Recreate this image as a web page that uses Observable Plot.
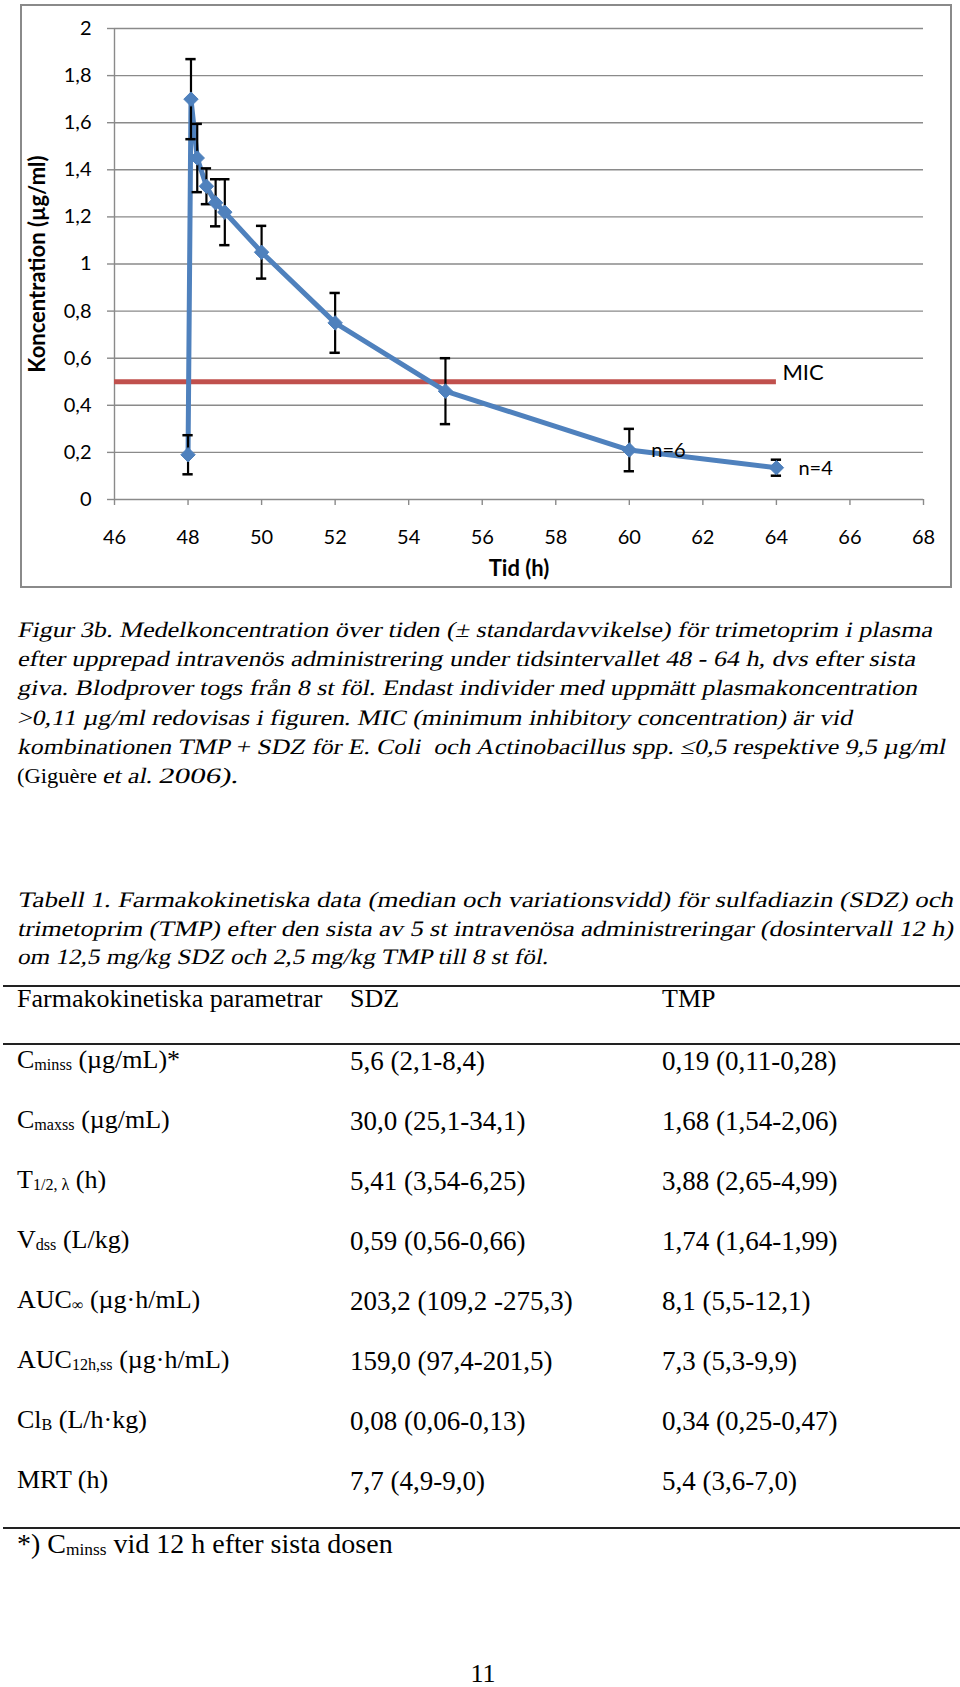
<!DOCTYPE html>
<html>
<head>
<meta charset="utf-8">
<script src="https://cdn.jsdelivr.net/npm/d3@7"></script>
<script src="https://cdn.jsdelivr.net/npm/@observablehq/plot@0.6"></script>
<style>
  body { margin: 0; background: #fff; }
  #page { position: relative; width: 960px; height: 1687px; overflow: hidden; font-family: "Liberation Serif", "Times New Roman", serif; color: #000; }
  #chart { position: absolute; left: 0; top: 0; }
  #frame { position: absolute; left: 20px; top: 4px; width: 932px; height: 584px; box-sizing: border-box; border: 2px solid #8a8a8a; pointer-events: none; }
  #captext { position: absolute; left: 0; top: 0; pointer-events: none; }
  #captext text { font-family: "Liberation Serif", "Times New Roman", serif; font-size: 22px; fill: #000; }
  .ln { position: absolute; white-space: nowrap; line-height: 1; }
  .rule { position: absolute; left: 3px; width: 957px; height: 2px; background: #222; }
  .sub { font-size: 0.62em; vertical-align: -0.12em; }
  #chart g[aria-label="y-axis label"], #chart g[aria-label="x-axis label"] { font-weight: bold; font-size: 22px; }
</style>
</head>
<body>
<div id="page">
  <div id="chart"></div>
  <div id="frame"></div>
  <svg id="captext" width="960" height="1687" xmlns="http://www.w3.org/2000/svg"></svg>
</div>
<script>
// ---------- chart data ----------
const timeH    = [48, 48.08, 48.25, 48.5, 48.75, 49, 50, 52, 55, 60, 64];
const meanConc = [0.19, 1.70, 1.45, 1.33, 1.26, 1.22, 1.05, 0.75, 0.46, 0.21, 0.135];
const sdConc   = [0.083, 0.17, 0.145, 0.076, 0.10, 0.14, 0.112, 0.127, 0.14, 0.09, 0.034];
const nNotes   = ["", "", "", "", "", "", "", "", "", "n=6", "n=4"];
const micValue = 0.5;
const micStart = 46;
const micEnd   = 64;
const micLabel = "MIC";
const xTicks = [46, 48, 50, 52, 54, 56, 58, 60, 62, 64, 66, 68];
const yTicks = [0, 0.2, 0.4, 0.6, 0.8, 1, 1.2, 1.4, 1.6, 1.8, 2];
const yTickLabels = ["0", "0,2", "0,4", "0,6", "0,8", "1", "1,2", "1,4", "1,6", "1,8", "2"];
const xTitle = "Tid (h)";
const yTitle = "Koncentration (µg/ml)";

// ---------- caption / table text ----------
const captionLines = [
  "Figur 3b. Medelkoncentration över tiden (± standardavvikelse) för trimetoprim i plasma",
  "efter upprepad intravenös administrering under tidsintervallet 48 - 64 h, dvs efter sista",
  "giva. Blodprover togs från 8 st föl. Endast individer med uppmätt plasmakoncentration",
  ">0,11 µg/ml redovisas i figuren. MIC (minimum inhibitory concentration) är vid",
  "kombinationen TMP + SDZ för E. Coli  och Actinobacillus spp. ≤0,5 respektive 9,5 µg/ml"
];
const captionLineWidths = [915, 898, 900, 835, 928];
const captionLast = ["(Giguère", "et al.", "2006)."];
const captionLastX = [17, 102, 158];
const captionLastW = [80, 50, 80];
const captionLastOblique = [false, true, true];
const tableTitleLines = [
  "Tabell 1. Farmakokinetiska data (median och variationsvidd) för sulfadiazin (SDZ) och",
  "trimetoprim (TMP) efter den sista av 5 st intravenösa administreringar (dosintervall 12 h)",
  "om 12,5 mg/kg SDZ och 2,5 mg/kg TMP till 8 st föl."
];
const tableTitleWidths = [936, 936, 531];
const tableHeader = ["Farmakokinetiska parametrar", "SDZ", "TMP"];
const paramLabels = [
  ["C", "minss", " (µg/mL)*"],
  ["C", "maxss", " (µg/mL)"],
  ["T", "1/2, λ", " (h)"],
  ["V", "dss", " (L/kg)"],
  ["AUC", "∞", " (µg·h/mL)"],
  ["AUC", "12h,ss", " (µg·h/mL)"],
  ["Cl", "B", " (L/h·kg)"],
  ["MRT (h)", "", ""]
];
const sdzValues = ["5,6 (2,1-8,4)", "30,0 (25,1-34,1)", "5,41 (3,54-6,25)", "0,59 (0,56-0,66)",
                   "203,2 (109,2 -275,3)", "159,0 (97,4-201,5)", "0,08 (0,06-0,13)", "7,7 (4,9-9,0)"];
const tmpValues = ["0,19 (0,11-0,28)", "1,68 (1,54-2,06)", "3,88 (2,65-4,99)", "1,74 (1,64-1,99)",
                   "8,1 (5,5-12,1)", "7,3 (5,3-9,9)", "0,34 (0,25-0,47)", "5,4 (3,6-7,0)"];
const footnote = ["*) C", "minss", " vid 12 h efter sista dosen"];
const pageNumber = "11";

// ---------- chart ----------
const chartData = timeH.map((t, i) => ({t, c: meanConc[i], sd: sdConc[i], note: nNotes[i]}));
const micData = [{y: micValue, x1: micStart, x2: micEnd, label: micLabel}];
const capHalf = 0.14;
const gray = "#8a8a8a";
const blue = "#4F81BD";

const chart = Plot.plot({
  width: 960,
  height: 600,
  marginLeft: 114,
  marginRight: 37,
  marginTop: 28,
  marginBottom: 101,
  style: {fontFamily: "Lato, 'Open Sans', sans-serif", background: "transparent", color: "#000"},
  x: {domain: [46, 68]},
  y: {domain: [0, 2]},
  marks: [
    Plot.gridY(yTicks, {stroke: gray, strokeOpacity: 1, strokeWidth: 1.4}),
    Plot.ruleX([46], {stroke: gray, strokeWidth: 1.4}),
    Plot.axisX({ticks: xTicks, tickSize: 6, tickPadding: 24, fontSize: 20, stroke: gray, strokeWidth: 1.4,
                label: xTitle, labelAnchor: "center", labelOffset: 76, labelArrow: "none"}),
    Plot.axisY({ticks: yTicks, tickSize: 7, tickPadding: 16, fontSize: 20, stroke: gray, strokeWidth: 1.4,
                tickFormat: d => yTickLabels[yTicks.indexOf(d)],
                label: yTitle, labelAnchor: "center", labelOffset: 85, labelArrow: "none"}),
    Plot.ruleY(micData, {y: "y", x1: "x1", x2: "x2", stroke: "#C0504D", strokeWidth: 5}),
    Plot.text(micData, {x: "x2", y: "y", text: "label", textAnchor: "start", dx: 6, dy: -9, fontSize: 22, fill: "#000"}),
    Plot.line(chartData, {x: "t", y: "c", stroke: blue, strokeWidth: 5, strokeLinejoin: "round"}),
    Plot.ruleX(chartData, {x: "t", y1: d => d.c - d.sd, y2: d => d.c + d.sd, stroke: "#000", strokeWidth: 2.2}),
    Plot.ruleY(chartData, {y: d => d.c + d.sd, x1: d => d.t - capHalf, x2: d => d.t + capHalf, stroke: "#000", strokeWidth: 2.5}),
    Plot.ruleY(chartData, {y: d => d.c - d.sd, x1: d => d.t - capHalf, x2: d => d.t + capHalf, stroke: "#000", strokeWidth: 2.5}),
    Plot.dot(chartData, {x: "t", y: "c", symbol: "diamond2", r: 6.5, fill: blue, stroke: blue, strokeWidth: 1}),
    Plot.text(chartData.filter(d => d.note), {x: "t", y: "c", text: "note", textAnchor: "start", dx: 22, dy: 1, fontSize: 20, fill: "#000"})
  ]
});
document.getElementById("chart").appendChild(chart);

// ---------- caption and table title (SVG text, oblique, fitted to the original line widths) ----------
const svgNS = "http://www.w3.org/2000/svg";
const capSvg = document.getElementById("captext");
function svgLine(x, baseline, text, oblique, fitWidth) {
  const g = document.createElementNS(svgNS, "g");
  g.setAttribute("transform", `translate(${x},${baseline})` + (oblique ? " skewX(-12)" : ""));
  const t = document.createElementNS(svgNS, "text");
  t.setAttribute("x", 0);
  t.setAttribute("y", 0);
  t.style.whiteSpace = "pre";
  if (fitWidth) {
    t.setAttribute("textLength", fitWidth);
    t.setAttribute("lengthAdjust", "spacingAndGlyphs");
  }
  t.textContent = text;
  g.appendChild(t);
  capSvg.appendChild(g);
  return t;
}
captionLines.forEach((s, i) => svgLine(17, 637 + 29.2 * i, s, true, captionLineWidths[i]));
captionLast.forEach((s, i) => svgLine(captionLastX[i], 637 + 29.2 * 5, s, captionLastOblique[i], captionLastW[i]));
tableTitleLines.forEach((s, i) => svgLine(17, 907 + 28.6 * i, s, true, tableTitleWidths[i]));

// ---------- table (HTML) ----------
const page = document.getElementById("page");
function line(x, baseline, fs) {
  const el = document.createElement("div");
  el.className = "ln";
  el.style.left = x + "px";
  el.style.top = (baseline - 0.8375 * fs) + "px";
  el.style.fontSize = fs + "px";
  page.appendChild(el);
  return el;
}
function withSub(el, parts) {
  el.appendChild(document.createTextNode(parts[0]));
  if (parts[1]) {
    const s = document.createElement("span");
    s.className = "sub";
    s.textContent = parts[1];
    el.appendChild(s);
  }
  if (parts[2]) el.appendChild(document.createTextNode(parts[2]));
}
function rule(y) {
  const r = document.createElement("div");
  r.className = "rule";
  r.style.top = (y - 1) + "px";
  page.appendChild(r);
}

rule(986);
const labFs = 26, valFs = 27;
line(17, 1008, labFs).textContent = tableHeader[0];
line(350, 1008, labFs).textContent = tableHeader[1];
line(662, 1008, labFs).textContent = tableHeader[2];
rule(1044);
paramLabels.forEach((p, i) => {
  const b = 1071 + 60 * i;
  withSub(line(17, b - 2, labFs), p);
  line(350, b, valFs).textContent = sdzValues[i];
  line(662, b, valFs).textContent = tmpValues[i];
});
rule(1528);
withSub(line(17, 1553, 28), footnote);
const pn = line(0, 1683, 26);
pn.style.width = "966px";
pn.style.textAlign = "center";
pn.textContent = pageNumber;
</script>
</body>
</html>
